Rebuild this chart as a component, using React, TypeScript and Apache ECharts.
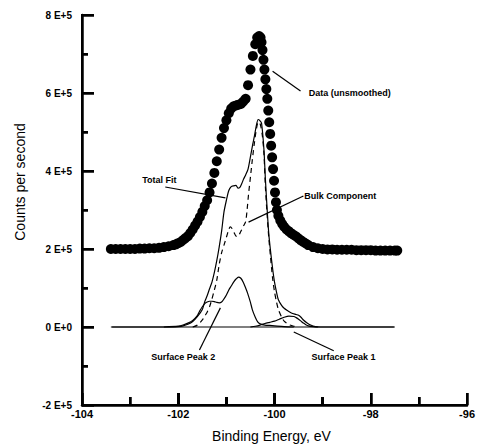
import React, { useEffect, useRef, useState } from "react";
import * as echarts from "echarts";

// ---- Axis ticks / labels ----
const xTickValues = [-104, -102, -100, -98, -96];
const xMinorTickValues = [-103, -101, -99, -97];
const yTickValues = [-200000, 0, 200000, 400000, 600000, 800000];
const yMinorTickValues = [-100000, 100000, 300000, 500000, 700000];
const yTickLabels = ["-2 E+5", "0 E+0", "2 E+5", "4 E+5", "6 E+5", "8 E+5"];

// ---- Data (unsmoothed), counts per second ----
const dataE = [
  -103.4, -103.3, -103.2, -103.1, -103.0, -102.9, -102.8, -102.7, -102.6, -102.5,
  -102.4, -102.3, -102.2, -102.1, -102.05, -102.0, -101.95, -101.9, -101.85, -101.8,
  -101.75, -101.7, -101.65, -101.6, -101.55, -101.5, -101.45, -101.4, -101.35, -101.3,
  -101.25, -101.2, -101.15, -101.1, -101.05, -101.0, -100.95, -100.9, -100.85, -100.8,
  -100.75, -100.7, -100.65, -100.6, -100.55, -100.5, -100.45, -100.4, -100.36, -100.32,
  -100.29, -100.27, -100.25, -100.23, -100.21, -100.19, -100.17, -100.15, -100.13, -100.11,
  -100.09, -100.07, -100.05, -100.03, -100.01, -99.99, -99.97, -99.95, -99.92, -99.88,
  -99.84, -99.8, -99.75, -99.7, -99.65, -99.6, -99.55, -99.5, -99.45, -99.4,
  -99.35, -99.3, -99.2, -99.1, -99.0, -98.9, -98.8, -98.7, -98.6, -98.5,
  -98.4, -98.3, -98.2, -98.1, -98.0, -97.9, -97.8, -97.7, -97.6, -97.5, -97.45,
];
const dataCounts = [
  200000, 200000, 200000, 200000, 200000, 200000, 201000, 201000, 202000, 202000,
  203000, 205000, 207000, 210000, 212000, 215000, 218000, 223000, 228000, 233000,
  241000, 250000, 260000, 270000, 282000, 295000, 310000, 325000, 345000, 368000,
  395000, 425000, 455000, 485000, 510000, 530000, 548000, 560000, 566000, 568000,
  570000, 572000, 578000, 585000, 620000, 660000, 695000, 725000, 742000, 746000,
  742000, 730000, 710000, 685000, 660000, 635000, 610000, 585000, 555000, 525000,
  495000, 465000, 435000, 405000, 375000, 345000, 320000, 300000, 285000, 273000,
  264000, 257000, 250000, 245000, 240000, 236000, 232000, 227000, 222000, 218000,
  214000, 210000, 205000, 202000, 200000, 199000, 199000, 198000, 198000, 198000,
  198000, 197000, 197000, 197000, 197000, 196000, 196000, 196000, 196000, 196000, 196000,
];

// ---- Total Fit ----
const fitE = [
  -103.4, -102.1, -102.0, -101.9, -101.8, -101.7, -101.6, -101.5, -101.45, -101.4,
  -101.35, -101.3, -101.25, -101.2, -101.15, -101.1, -101.05, -101.0, -100.95, -100.9,
  -100.85, -100.8, -100.76, -100.72, -100.68, -100.64, -100.6, -100.55, -100.5, -100.45,
  -100.42, -100.38, -100.34, -100.31, -100.27, -100.22, -100.19, -100.155, -100.12, -100.085,
  -100.04, -100.0, -99.96, -99.92, -99.85, -99.8, -99.73, -99.65, -99.55, -99.5,
  -99.45, -99.4, -99.33, -99.25, -99.15, -99.05, -97.5,
];
const fitCounts = [
  0, 0, 1000, 3000, 7000, 14000, 27000, 45000, 65000, 80000,
  98000, 115000, 140000, 170000, 205000, 245000, 295000, 325000, 350000, 360000,
  362000, 363000, 356000, 358000, 368000, 380000, 390000, 405000, 437000, 470000,
  488000, 515000, 532000, 530000, 523000, 455000, 380000, 305000, 240000, 197000,
  150000, 115000, 90000, 70000, 55000, 48000, 42000, 36000, 32000, 30000,
  25000, 18000, 11000, 5000, 1000, 0, 0,
];

// ---- Bulk Component (dashed) ----
const bulkE = [
  -101.7, -101.6, -101.5, -101.45, -101.4, -101.35, -101.3, -101.25, -101.2, -101.15,
  -101.1, -101.05, -101.0, -100.95, -100.92, -100.88, -100.84, -100.8, -100.76, -100.72,
  -100.68, -100.64, -100.6, -100.57, -100.54, -100.5, -100.46, -100.42, -100.38, -100.34,
  -100.31, -100.28, -100.25, -100.22, -100.19, -100.155, -100.12, -100.085, -100.04, -100.0,
  -99.96, -99.92, -99.85, -99.8, -99.7, -99.6, -99.5,
];
const bulkCounts = [
  0, 5000, 18000, 28000, 38000, 52000, 72000, 95000, 120000, 160000,
  190000, 210000, 230000, 250000, 257000, 252000, 242000, 233000, 232000, 240000,
  250000, 260000, 270000, 300000, 340000, 385000, 430000, 470000, 505000, 525000,
  524000, 512000, 488000, 445000, 360000, 290000, 230000, 182000, 125000, 90000,
  65000, 45000, 25000, 15000, 6000, 2000, 0,
];

// ---- Surface Peak 2 ----
const s2E = [
  -102.3, -102.0, -101.9, -101.8, -101.7, -101.6, -101.55, -101.5, -101.45, -101.4,
  -101.35, -101.3, -101.25, -101.2, -101.15, -101.1, -101.05, -101.0, -100.95, -100.9,
  -100.85, -100.8, -100.75, -100.7, -100.65, -100.6, -100.56, -100.5, -100.46, -100.4,
  -100.35, -100.3, -100.2, -100.1, -100.0, -99.8, -99.6,
];
const s2Counts = [
  0, 2000, 5000, 10000, 17000, 30000, 42000, 52000, 60000, 64000,
  66000, 66000, 65000, 63000, 62000, 64000, 72000, 82000, 95000, 105000,
  115000, 123000, 128000, 125000, 115000, 100000, 87000, 63000, 44000, 25000,
  13000, 8000, 5000, 4000, 3000, 1000, 0,
];

// ---- Surface Peak 1 ----
const s1E = [
  -100.5, -100.4, -100.3, -100.2, -100.1, -100.0, -99.9, -99.8, -99.7, -99.6,
  -99.55, -99.5, -99.45, -99.4, -99.35, -99.3, -99.2, -99.1,
];
const s1Counts = [
  0, 2000, 5000, 9000, 12000, 15000, 20000, 25000, 28000, 27000,
  24000, 20000, 15000, 10000, 6000, 3000, 1000, 0,
];

// ---- Baseline ----
const baseE = [-103.375, -97.52];
const baseCounts = [0, 0];

// ---- Annotations (data coordinates) ----
const annotations = [
  { text: "Data (unsmoothed)", at: [-99.29, 601000], from: [-100.04, 656000], to: [-99.46, 605000] },
  { text: "Total Fit", at: [-102.75, 377000], from: [-102.27, 359000], to: [-101.02, 331000] },
  { text: "Bulk Component", at: [-99.38, 336000], from: [-99.4, 336000], to: [-100.54, 269000] },
  { text: "Surface Peak 2", at: [-102.56, -77000], from: [-101.56, -59000], to: [-101.125, 49000] },
  { text: "Surface Peak 1", at: [-99.23, -77000], from: [-98.77, -61000], to: [-99.6, -13000] },
];

const xTitle = "Binding Energy, eV";
const yTitle = "Counts per second";

const FONT = "'Liberation Sans', Arial, Helvetica, sans-serif";

function zip(xs: number[], ys: number[]) {
  return xs.map((x, i) => [x, ys[i]]);
}

type Box = { x: number; y: number; w: number; h: number };

export default function App() {
  const ref = useRef<HTMLDivElement>(null);
  const [frame, setFrame] = useState<Box[]>([]);
  useEffect(() => {
    const chart = echarts.init(ref.current!, null, { renderer: "svg" });
    const black = "#000";
    const thin = (extra: any = {}) => ({
      type: "line",
      symbol: "none",
      silent: true,
      smooth: 0.25,
      itemStyle: { color: black },
      lineStyle: { color: black, width: 1.2, ...extra },
      z: 3,
    });
    const xMin = xTickValues[0];
    const xMax = xTickValues[xTickValues.length - 1];
    const yMin = yTickValues[0];
    const yMax = yTickValues[yTickValues.length - 1];

    chart.setOption({
      animation: false,
      grid: { left: 82, right: 9, top: 15, bottom: 40 },
      xAxis: {
        type: "value",
        min: xMin,
        max: xMax,
        interval: 2,
        axisLine: { show: true, onZero: false, lineStyle: { color: black, width: 2.5 } },
        axisTick: { show: true, inside: true, length: 12, lineStyle: { color: black, width: 2.5 } },
        minorTick: { show: true, splitNumber: 2, length: 8, lineStyle: { color: black, width: 2.5 } },
        splitLine: { show: false },
        axisLabel: {
          show: true,
          color: black,
          fontSize: 11,
          fontWeight: "bold",
          fontFamily: FONT,
          margin: 3,
          showMinLabel: true,
          showMaxLabel: true,
          formatter: (v: number) => String(v),
        },
      },
      yAxis: {
        type: "value",
        min: yMin,
        max: yMax,
        interval: 200000,
        axisLine: { show: true, onZero: false, lineStyle: { color: black, width: 2.5 } },
        axisTick: { show: true, inside: true, length: 12, lineStyle: { color: black, width: 2.5 } },
        minorTick: { show: true, splitNumber: 2, length: 6, lineStyle: { color: black, width: 2.5 } },
        splitLine: { show: false },
        axisLabel: {
          show: true,
          color: black,
          fontSize: 10,
          fontWeight: "bold",
          fontFamily: FONT,
          margin: 10,
          showMinLabel: true,
          showMaxLabel: true,
          formatter: (v: number) => {
            const i = yTickValues.indexOf(v);
            return i >= 0 ? yTickLabels[i] : "";
          },
        },
      },
      series: [
        { ...thin(), name: "Baseline", data: zip(baseE, baseCounts), smooth: false },
        { ...thin(), name: "Surface Peak 1", data: zip(s1E, s1Counts) },
        { ...thin(), name: "Surface Peak 2", data: zip(s2E, s2Counts) },
        { ...thin({ type: [5, 4] }), name: "Bulk Component", data: zip(bulkE, bulkCounts) },
        { ...thin(), name: "Total Fit", data: zip(fitE, fitCounts) },
        {
          name: "Data (unsmoothed)",
          type: "scatter",
          silent: true,
          symbol: "circle",
          symbolSize: 10,
          itemStyle: { color: black, opacity: 1, borderWidth: 0 },
          data: zip(dataE, dataCounts),
          z: 5,
        },
      ],
    });

    const px = (p: number[]) => chart.convertToPixel({ xAxisIndex: 0, yAxisIndex: 0 }, p) as number[];
    const elements: any[] = [];
    const seg = (a: number[], b: number[], w: number) => ({
      type: "line",
      silent: true,
      shape: { x1: a[0], y1: a[1], x2: b[0], y2: b[1] },
      style: { stroke: "#000", lineWidth: w },
      z: 20,
    });

    annotations.forEach((a) => {
      const t = px(a.at);
      const f = px(a.from);
      const g = px(a.to);
      elements.push(seg(f, g, 1.2));
      elements.push({
        type: "text",
        silent: true,
        x: t[0],
        y: t[1],
        style: {
          text: a.text,
          fill: black,
          font: `bold 9px ${FONT}`,
          textAlign: "left",
          textVerticalAlign: "middle",
        },
        z: 10,
      });
    });
    const xMid = px([(xMin + xMax) / 2, yMin]);
    elements.push({
      type: "text",
      silent: true,
      x: xMid[0] - 3,
      y: 436,
      style: {
        text: xTitle,
        fill: black,
        font: `14px ${FONT}`,
        textAlign: "center",
        textVerticalAlign: "middle",
      },
    });
    elements.push({
      type: "text",
      silent: true,
      x: 20,
      y: 182,
      rotation: Math.PI / 2,
      style: {
        text: yTitle,
        fill: black,
        font: `14px ${FONT}`,
        textAlign: "center",
        textVerticalAlign: "middle",
      },
    });
    chart.setOption({ graphic: { elements } });

    // Axis frame and ticks, placed through the chart's own scales
    const T = 2.5;
    const o = px([xMin, yMin]);
    const xe = px([xMax, yMin]);
    const ye = px([xMin, yMax]);
    const boxes: Box[] = [];
    boxes.push({ x: o[0] - T / 2, y: o[1] - T / 2, w: xe[0] - o[0] + T, h: T });
    boxes.push({ x: o[0] - T / 2, y: ye[1] - T / 2, w: T, h: o[1] - ye[1] + T });
    xTickValues.forEach((v) => {
      const p = px([v, yMin]);
      boxes.push({ x: p[0] - T / 2, y: p[1] - 12, w: T, h: 12 });
    });
    xMinorTickValues.forEach((v) => {
      const p = px([v, yMin]);
      boxes.push({ x: p[0] - T / 2, y: p[1] - 8, w: T, h: 8 });
    });
    yTickValues.forEach((v) => {
      const p = px([xMin, v]);
      boxes.push({ x: p[0], y: p[1] - T / 2, w: 12, h: T });
    });
    yMinorTickValues.forEach((v) => {
      const p = px([xMin, v]);
      boxes.push({ x: p[0], y: p[1] - T / 2, w: 6, h: T });
    });
    setFrame(boxes);

    return () => chart.dispose();
  }, []);
  return (
    <div style={{ position: "fixed", left: 0, top: 0, width: 478, height: 445, background: "#fff" }}>
      <div ref={ref} style={{ position: "absolute", left: 0, top: 0, width: 478, height: 445 }} />
      {frame.map((b, i) => (
        <div
          key={i}
          style={{
            position: "absolute",
            left: b.x,
            top: b.y,
            width: b.w,
            height: b.h,
            background: "#000",
            pointerEvents: "none",
            zIndex: 10,
          }}
        />
      ))}
    </div>
  );
}
